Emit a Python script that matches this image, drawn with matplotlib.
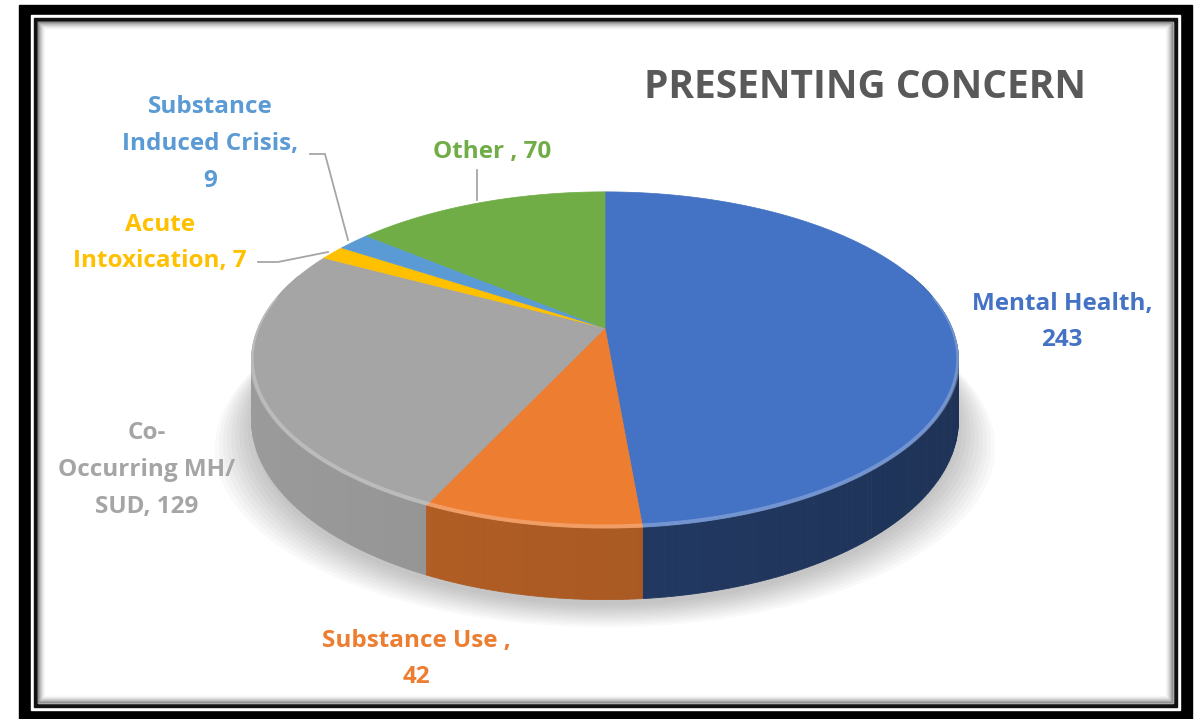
import numpy as np
import matplotlib.pyplot as plt
from matplotlib.patches import Polygon, Rectangle
from matplotlib.colors import to_rgb

# Data ----------------------------------------------------

categories = ['Mental Health', 'Substance Use', 'Co-Occurring MH/SUD',
              'Acute Intoxication', 'Substance Induced Crisis', 'Other']
values = [243, 42, 129, 7, 9, 70]
colors = ['#4472C4', '#ED7D31', '#A5A5A5', '#FFC000', '#5B9BD5', '#70AD47']
label_texts = ['Mental Health,\n243', 'Substance Use ,\n42', 'Co-\nOccurring MH/\nSUD, 129',
               'Acute\nIntoxication, 7', 'Substance\nInduced Crisis,\n9', 'Other , 70']
title = 'PRESENTING CONCERN'

# Layout (pixels) -----------------------------------------

W, H = 1200, 719
CX, CY = 605, 328          # apex of the pie on screen
A, B, K = 347, 162, 0.19   # half width, half depth, perspective
DEPTH = 58
wall_shade = [0.50, 0.72, 0.88, 0.80, 0.78, 0.75]

label_pos = [(1062, 322), (416, 659), (147, 470), (160, 243), (210, 144), (492, 152)]
leaders = {4: ([310, 325, 348], [154, 154, 240]),
           3: ([258, 278, 328], [262, 262, 252]),
           5: ([477, 477], [170, 200])}


def proj(t, drop=0.0):
    X, Y = np.cos(t), np.sin(t)
    s = 1.0 / (1.0 + K * Y)
    return CX + A * X * s, CY - B * Y * s + drop * s


fig = plt.figure(figsize=(W / 100, H / 100), dpi=100)
ax = fig.add_axes([0, 0, 1, 1])
ax.set_xlim(0, W)
ax.set_ylim(H, 0)
ax.axis('off')

# Frame ---------------------------------------------------

ax.add_patch(Rectangle((19, 5), 1173, 720, color='black', zorder=0))
ax.add_patch(Rectangle((31, 15), 1149, 695, color='white', zorder=0))
ax.add_patch(Rectangle((34, 18), 1143, 689, color='#111111', zorder=0))
ax.add_patch(Rectangle((38, 22), 1135, 681, color='white', zorder=0))
for i in range(8):
    g = 0.35 + 0.08 * i
    ax.add_patch(Rectangle((38 + i, 22 + i), 1135 - 2 * i, 681 - 2 * i, fill=False,
                           ec=(g, g, g), lw=1.2, alpha=0.6 - 0.07 * i, zorder=0.1))

# Shadow under the pie ------------------------------------

ts = np.linspace(0, 2 * np.pi, 240)
for i in range(10):
    grow = 4 * i
    xs, ys = proj(ts, DEPTH)
    xs = CX + (xs - CX) * (1 + grow / A)
    ys = ys + 6 + grow * 0.6
    ax.add_patch(Polygon(np.c_[xs, ys], closed=True, fc='black', ec='none',
                         alpha=0.025, zorder=0.5))

# Pie -----------------------------------------------------

total = sum(values)
cum = np.concatenate([[0], np.cumsum(values)])
bounds = np.radians(90 - 360 * cum / total)

segments = []
for i in range(len(values)):
    t0, t1 = bounds[i], bounds[i + 1]
    n = max(3, int(abs(t1 - t0) / np.radians(1)))
    tt = np.linspace(t0, t1, n + 1)
    base = np.array(to_rgb(colors[i]))
    for a, b in zip(tt[:-1], tt[1:]):
        tm = (a + b) / 2
        if np.sin(tm) > 0.35:
            continue
        xa, ya = proj(a)
        xb, yb = proj(b)
        xa2, ya2 = proj(a, DEPTH)
        xb2, yb2 = proj(b, DEPTH)
        f = wall_shade[i] - 0.06 * np.cos(tm)
        c = np.clip(base * f, 0, 1)
        segments.append((np.sin(tm), [(xa, ya), (xb, yb), (xb2, yb2), (xa2, ya2)], c))

segments.sort(key=lambda s: -s[0])
for k, (_, pts, c) in enumerate(segments):
    ax.add_patch(Polygon(pts, closed=True, fc=c, ec=c, lw=0.6, zorder=1 + k * 1e-4))

for i in range(len(values)):
    tt = np.linspace(bounds[i], bounds[i + 1], 120)
    xs, ys = proj(tt)
    pts = np.c_[np.r_[CX, xs], np.r_[CY, ys]]
    ax.add_patch(Polygon(pts, closed=True, fc=colors[i], ec=colors[i], lw=0.5, zorder=2))

# bevel highlight on the front rim
tt = np.linspace(np.radians(150), np.radians(390), 300)
tt = tt[np.sin(tt) < 0.2]
xs, ys = proj(tt)
ax.plot(xs, ys - 1.5, color='white', lw=3, alpha=0.25, zorder=3, solid_capstyle='round')

# Labels --------------------------------------------------

font = 'Open Sans'
for i, (x, y) in enumerate(label_pos):
    ax.text(x, y, label_texts[i], color=colors[i], fontsize=17.5, fontweight='bold',
            family=font, ha='center', va='center', linespacing=1.7, zorder=5)

for i, (lx, ly) in leaders.items():
    ax.plot(lx, ly, color='#A6A6A6', lw=1.3, zorder=4)

ax.text(865, 87, title, color='#595959', fontsize=28, fontweight='bold',
        family=font, ha='center', va='center', zorder=5)

fig.savefig('out.png', dpi=100)
